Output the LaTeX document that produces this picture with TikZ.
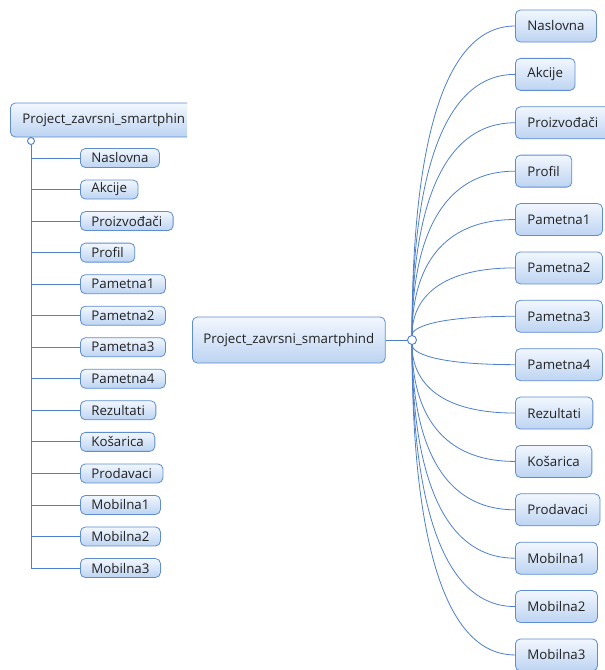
\documentclass[tikz,border=0pt]{standalone}
\usepackage{fontspec}
\setmainfont{Open Sans}
\usetikzlibrary{calc}
\definecolor{bline}{HTML}{4F7FCC}
\definecolor{bborder}{HTML}{5F8DD0}
\definecolor{btop}{HTML}{F2F7FE}
\definecolor{bbot}{HTML}{BDD4F2}
\definecolor{btext}{HTML}{222222}
\begin{document}
\begin{tikzpicture}[x=1pt,y=-1pt,
  font=\fontsize{13.3}{15}\selectfont,
  box/.style={draw=bborder, line width=0.8pt, rounded corners=5pt, top color=btop, bottom color=bbot, text=btext, inner xsep=12pt, inner ysep=0pt, anchor=west},
  lbox/.style={box, minimum height=19pt, inner xsep=11pt},
  rbox/.style={box, minimum height=32pt, inner xsep=12pt},
  conn/.style={draw=bline, line width=0.8pt},
  dot/.style={circle, draw=bline, line width=0.9pt, fill=white, inner sep=0pt}
]
\useasboundingbox (0,0) rectangle (605,670);

% ---------- left tree ----------
\begin{scope}
\clip (0,0) rectangle (187,670);
\node[box, minimum height=34pt, text width=180pt, align=left] (lroot) at (10,120) {Project\_zavrsni\_smartphin};
\end{scope}
\node[dot, minimum size=7pt] (lc) at (31,141) {};
\foreach \t [count=\i] in {Naslovna,Akcije,Proizvođači,Profil,Pametna1,Pametna2,Pametna3,Pametna4,Rezultati,Košarica,Prodavaci,Mobilna1,Mobilna2,Mobilna3}{
  \node[lbox] (l\i) at (80,{158+31.54*(\i-1)}) {\t};
}
\draw[conn] (lc) -- (lc |- l14.west);
\foreach \i in {1,...,14}{
  \draw[conn] (lc |- l\i.west) -- (l\i.west);
}

% ---------- right tree ----------
\node[box, minimum height=46pt, inner xsep=11pt] (rroot) at (192,340) {Project\_zavrsni\_smartphind};
\node[dot, minimum size=9pt] (rc) at (412,340) {};
\draw[conn] (rroot.east) -- (rc);
\foreach \t [count=\i] in {Naslovna,Akcije,Proizvođači,Profil,Pametna1,Pametna2,Pametna3,Pametna4,Rezultati,Košarica,Prodavaci,Mobilna1,Mobilna2,Mobilna3}{
  \node[rbox] (r\i) at (515,{26+48.38*(\i-1)}) {\t};
}
\foreach \i in {1,...,14}{
  \draw[conn] (rc) .. controls ($(rc)!0.5!(rc|-r\i.west)$) and ($(rc|-r\i.west)!0.2!(r\i.west)$) .. (r\i.west);
}
\end{tikzpicture}
\end{document}
